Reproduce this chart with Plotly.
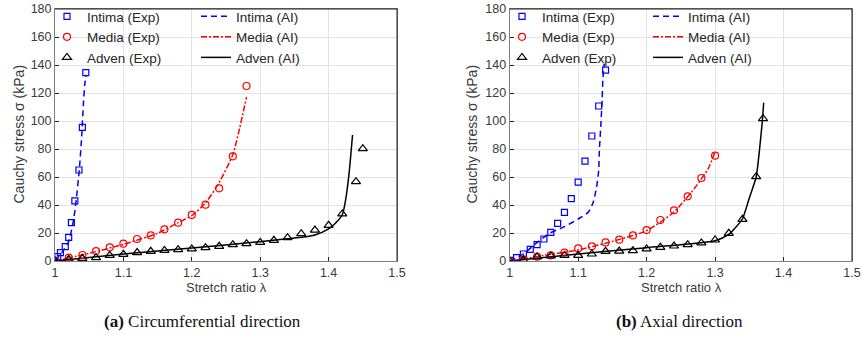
import plotly.graph_objects as go

# ---------------- data: (a) circumferential ----------------
lam_int_exp_c = [1.000, 1.004, 1.008, 1.015, 1.020, 1.024, 1.029, 1.035, 1.040, 1.045]
sig_int_exp_c = [0.5, 3.1, 6.0, 10.2, 16.9, 27.4, 42.9, 65.0, 95.5, 134.5]
lam_int_ai_c = [1.000, 1.010, 1.020, 1.027, 1.031, 1.0355, 1.039, 1.0415, 1.0435, 1.0455]
sig_int_ai_c = [0, 6, 14, 29, 43.6, 65, 89, 112, 126, 133]

lam_med_exp_c = [1.00, 1.02, 1.04, 1.06, 1.08, 1.10, 1.12, 1.14, 1.16, 1.18, 1.20, 1.22, 1.24, 1.26, 1.28]
sig_med_exp_c = [0, 2.4, 4.3, 7.1, 9.8, 12.4, 15.7, 18.3, 22.6, 27.4, 32.9, 40.2, 51.9, 74.8, 125.0]
lam_med_ai_c = [1.00, 1.05, 1.10, 1.15, 1.18, 1.20, 1.22, 1.24, 1.26, 1.27, 1.28]
sig_med_ai_c = [0, 5.5, 11.9, 19.8, 27.4, 32.5, 41.5, 56, 76, 95, 117]

lam_adv_exp_c = [1.00, 1.02, 1.04, 1.06, 1.08, 1.10, 1.12, 1.14, 1.16, 1.18, 1.20, 1.22,
                 1.24, 1.26, 1.28, 1.30, 1.32, 1.34, 1.36, 1.38, 1.40, 1.42, 1.44, 1.45]
sig_adv_exp_c = [0, 1.2, 1.9, 2.4, 4.0, 4.8, 6.0, 6.9, 7.6, 8.1, 8.6, 9.5,
                 10.5, 11.7, 12.4, 13.3, 14.8, 16.7, 19.5, 22.1, 25.5, 33.6, 56.7, 80.2]
lam_adv_ai_c = [1.00, 1.10, 1.20, 1.30, 1.36, 1.38, 1.40, 1.41, 1.42, 1.425, 1.43, 1.435]
sig_adv_ai_c = [0, 5, 9.3, 13.8, 16.9, 18.6, 23, 27, 33, 44, 63, 90]

# ---------------- data: (b) axial ----------------
lam_int_exp_a = [1.00, 1.01, 1.02, 1.03, 1.04, 1.05, 1.06, 1.07, 1.08, 1.09, 1.10, 1.11, 1.12, 1.13, 1.14]
sig_int_exp_a = [0.5, 2.4, 5.0, 8.3, 11.7, 15.7, 20.5, 26.9, 34.8, 44.5, 56.4, 71.4, 89.3, 110.7, 136.4]
lam_int_ai_a = [1.00, 1.02, 1.037, 1.059, 1.08, 1.10, 1.115, 1.122, 1.127, 1.130, 1.131, 1.133, 1.135, 1.136, 1.138]
sig_int_ai_a = [0, 5, 12, 20, 24.5, 30, 35, 42, 53, 65, 79, 96, 115, 129, 141]

lam_med_exp_a = [1.00, 1.02, 1.04, 1.06, 1.08, 1.10, 1.12, 1.14, 1.16, 1.18, 1.20, 1.22, 1.24, 1.26, 1.28, 1.30]
sig_med_exp_a = [0, 1.2, 3.1, 4.0, 6.0, 9.0, 10.5, 13.3, 15.2, 18.3, 22.1, 29.3, 36.2, 46.2, 59.3, 75.2]
lam_med_ai_a = [1.00, 1.05, 1.10, 1.15, 1.20, 1.24, 1.27, 1.29, 1.30]
sig_med_ai_a = [0, 4, 7.9, 14, 21.7, 35, 52, 66, 78]

lam_adv_exp_a = [1.00, 1.02, 1.04, 1.06, 1.08, 1.10, 1.12, 1.14, 1.16, 1.18, 1.20, 1.22,
                 1.24, 1.26, 1.28, 1.30, 1.32, 1.34, 1.36, 1.37]
sig_adv_exp_a = [0, 0.7, 2.9, 3.6, 4.0, 4.0, 5.0, 6.9, 7.1, 7.4, 8.6, 9.8,
                 10.7, 11.7, 12.9, 15.0, 19.8, 29.8, 60.2, 101.7]
lam_adv_ai_a = [1.00, 1.10, 1.20, 1.30, 1.32, 1.33, 1.34, 1.35, 1.36, 1.365, 1.369, 1.371]
sig_adv_ai_a = [0, 5, 9.5, 14.5, 19, 24, 30, 45, 60, 80, 100, 113]

x_ticks = [1.0, 1.1, 1.2, 1.3, 1.4, 1.5]
x_tick_text = ["1", "1.1", "1.2", "1.3", "1.4", "1.5"]
y_ticks = [0, 20, 40, 60, 80, 100, 120, 140, 160, 180]

names_exp = ["Intima (Exp)", "Media (Exp)", "Adven (Exp)"]
names_ai = ["Intima (AI)", "Media (AI)", "Adven (AI)"]
captions = ["<b>(a)</b> Circumferential direction", "<b>(b)</b> Axial direction"]
x_title = "Stretch ratio λ"
y_title = "Cauchy stress σ (kPa)"

W, H = 862, 338
FONT = "Liberation Sans, Arial, sans-serif"
TXT = "#3a3a3a"

fig = go.Figure()

panels = [
    dict(xa="x", ya="y", leg=("legend", "legend2"),
         exp=[(lam_int_exp_c, sig_int_exp_c), (lam_med_exp_c, sig_med_exp_c), (lam_adv_exp_c, sig_adv_exp_c)],
         ai=[(lam_int_ai_c, sig_int_ai_c), (lam_med_ai_c, sig_med_ai_c), (lam_adv_ai_c, sig_adv_ai_c)]),
    dict(xa="x2", ya="y2", leg=("legend3", "legend4"),
         exp=[(lam_int_exp_a, sig_int_exp_a), (lam_med_exp_a, sig_med_exp_a), (lam_adv_exp_a, sig_adv_exp_a)],
         ai=[(lam_int_ai_a, sig_int_ai_a), (lam_med_ai_a, sig_med_ai_a), (lam_adv_ai_a, sig_adv_ai_a)]),
]

colors = ["#0000ff", "#ff0000", "#000000"]
symbols = ["square-open", "circle-open", "triangle-up-open"]
msizes = [6, 7, 8]
dashes = ["6px,4px", "6px,2px,2px,2px", "solid"]

for p in panels:
    for i in range(3):
        fig.add_trace(go.Scatter(
            x=p["ai"][i][0], y=p["ai"][i][1], mode="lines", name=names_ai[i],
            line=dict(color=colors[i], width=1.5, dash=dashes[i], shape="spline", smoothing=0.6),
            xaxis=p["xa"], yaxis=p["ya"], legend=p["leg"][1]))
    for i in range(3):
        fig.add_trace(go.Scatter(
            x=p["exp"][i][0], y=p["exp"][i][1], mode="markers", name=names_exp[i],
            marker=dict(symbol=symbols[i], size=msizes[i], color=colors[i], line=dict(width=1.2)),
            xaxis=p["xa"], yaxis=p["ya"], legend=p["leg"][0]))

D = 3  # right panel shifted slightly left so its last tick label fits
ydom = [1 - 261 / H, 1 - 9 / H]
xdoms = [[55 / W, 397 / W], [(512.7 - D) / W, (855 - D) / W]]

axis_common = dict(showgrid=True, gridcolor="#e3e3e3", gridwidth=1, zeroline=False,
                   showline=True, linecolor="#808080", linewidth=1, mirror=True,
                   ticks="inside", ticklen=4, tickcolor="#262626", automargin=False,
                   ticklabeloverflow="allow",
                   tickfont=dict(family=FONT, size=12.5, color=TXT))

fig.update_layout(
    width=W, height=H, margin=dict(l=0, r=0, t=0, b=0, autoexpand=False),
    paper_bgcolor="white", plot_bgcolor="white",
    xaxis=dict(domain=xdoms[0], anchor="y", range=[1, 1.5], tickvals=x_ticks, ticktext=x_tick_text, **axis_common),
    yaxis=dict(domain=ydom, anchor="x", range=[0, 180], tickvals=y_ticks, **axis_common),
    xaxis2=dict(domain=xdoms[1], anchor="y2", range=[1, 1.5], tickvals=x_ticks, ticktext=x_tick_text, **axis_common),
    yaxis2=dict(domain=ydom, anchor="x2", range=[0, 180], tickvals=y_ticks, **axis_common),
)

leg_common = dict(bgcolor="rgba(255,255,255,0)", borderwidth=0, yanchor="top", xanchor="left",
                  font=dict(family=FONT, size=13.5, color="#262626"), itemwidth=30,
                  tracegroupgap=0, traceorder="normal")
LEG_Y = 1 - 1 / H
fig.update_layout(
    legend=dict(x=47 / W, y=LEG_Y, **leg_common),
    legend2=dict(x=196 / W, y=LEG_Y, **leg_common),
    legend3=dict(x=(505 - D) / W, y=LEG_Y, **leg_common),
    legend4=dict(x=(651 - D) / W, y=LEG_Y, **leg_common),
)

for xa, ya, (bx0, bx1) in [("x", "y", (60, 315)), ("x2", "y2", (518 - D, 771 - D))]:
    fig.add_shape(type="rect", xref="paper", yref="paper", x0=bx0 / W, x1=bx1 / W,
                  y0=1 - 64 / H, y1=1 - 10 / H, fillcolor="white", line=dict(width=0), layer="between")
    fig.add_shape(type="line", xref=f"{xa} domain", yref=f"{ya} domain", x0=0, x1=1, y0=1, y1=1,
                  line=dict(color="#202020", width=1))
    fig.add_shape(type="line", xref=f"{xa} domain", yref=f"{ya} domain", x0=1, x1=1, y0=0, y1=1,
                  line=dict(color="#202020", width=1))

for k, (xc, ytx) in enumerate([(226, 18), (684 - D, 474 - D)]):
    fig.add_annotation(text=x_title, x=xc / W, y=1 - 287 / H, xref="paper", yref="paper",
                       showarrow=False, xanchor="center", yanchor="middle",
                       font=dict(family=FONT, size=13, color=TXT))
    fig.add_annotation(text=y_title, x=ytx / W, y=1 - 134.5 / H, xref="paper", yref="paper",
                       showarrow=False, xanchor="center", yanchor="middle", textangle=-90,
                       font=dict(family=FONT, size=14, color=TXT))
for k, xc in enumerate([202, 679]):
    fig.add_annotation(text=captions[k], x=xc / W, y=1 - 321 / H, xref="paper", yref="paper",
                       showarrow=False, xanchor="center", yanchor="middle",
                       font=dict(family="Liberation Serif, DejaVu Serif, serif", size=17, color="#111111"))

fig.write_html("out.html")
